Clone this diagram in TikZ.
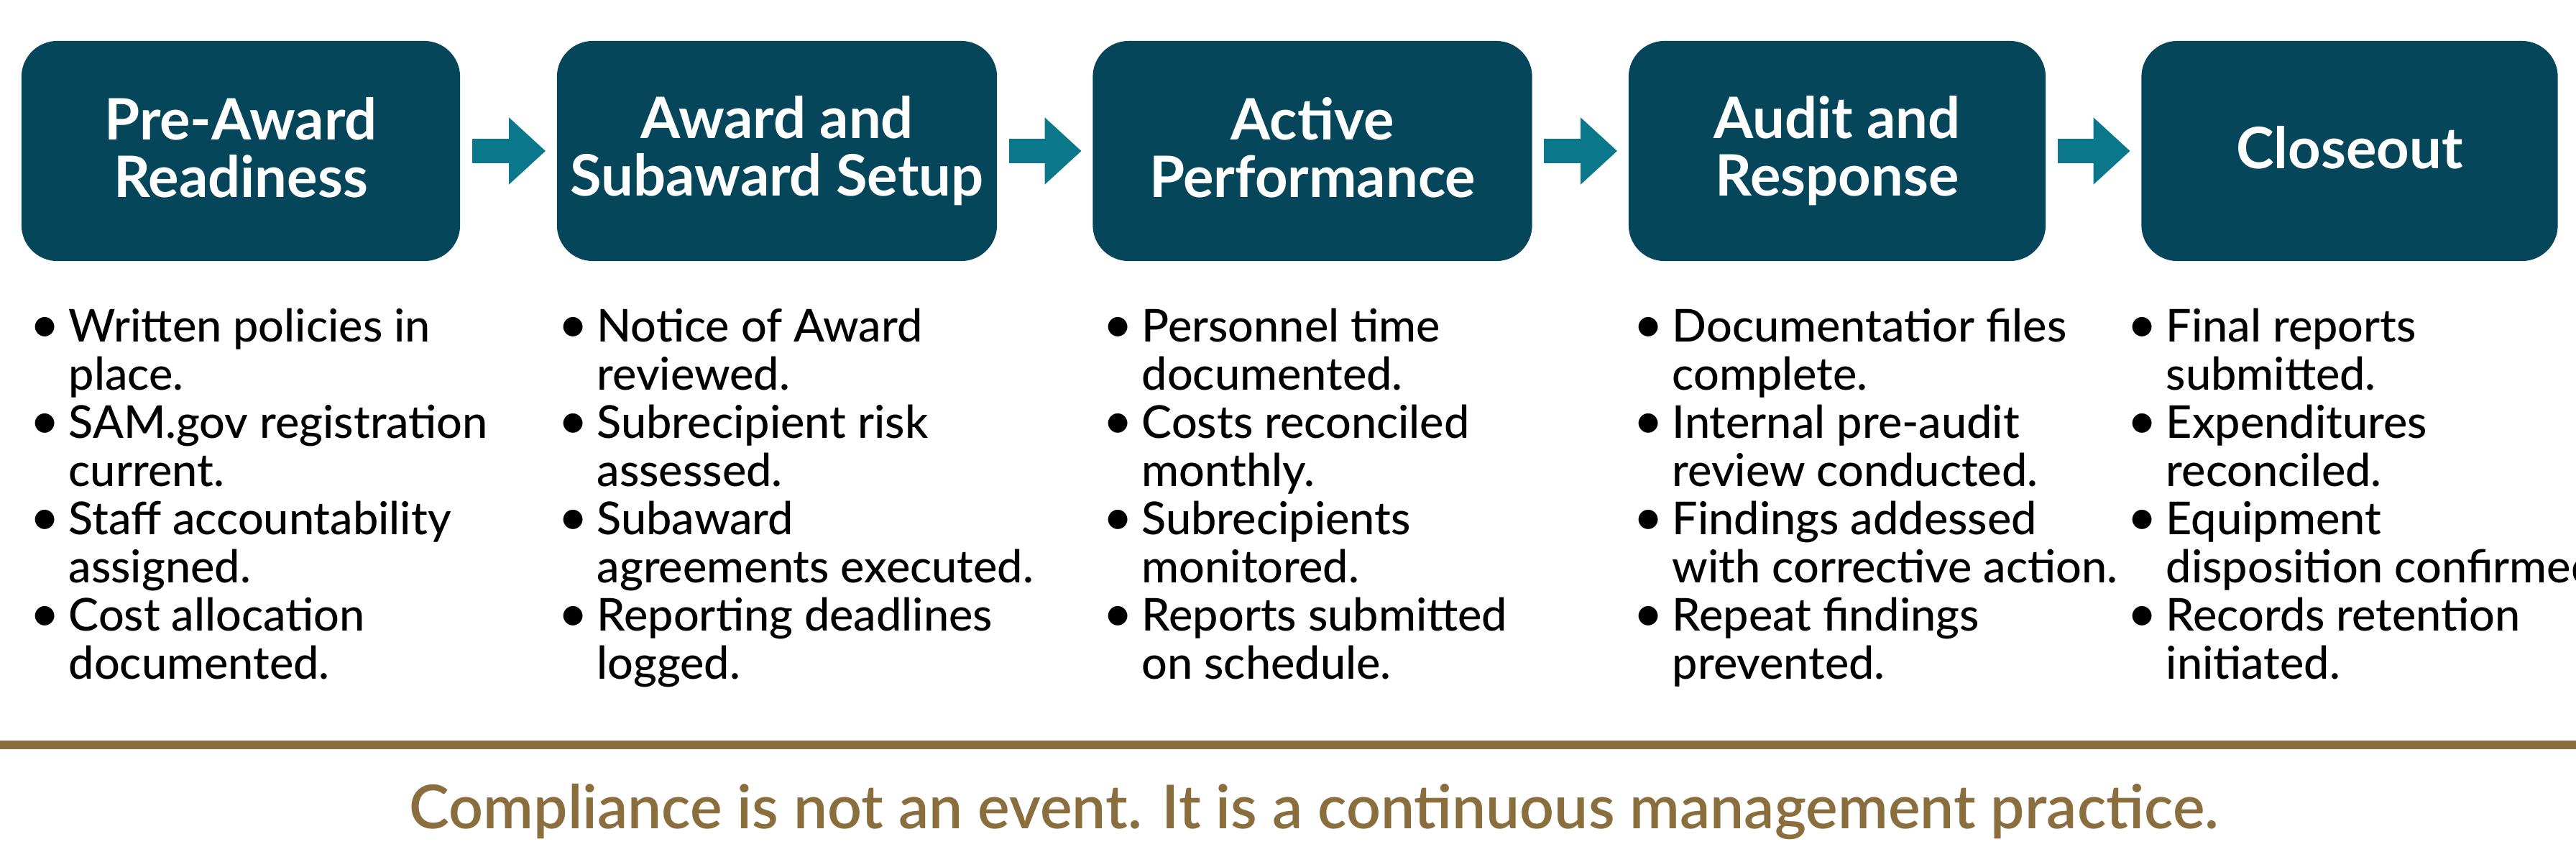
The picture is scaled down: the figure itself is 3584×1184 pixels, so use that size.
\documentclass[tikz,border=0pt]{standalone}
\usepackage{fontspec}
\setmainfont{Lato}
\IfFontExistsTF{Lato Medium}{\newfontfamily\bodyfont{Lato Medium}}{\newfontfamily\bodyfont{Lato}}
\IfFontExistsTF{Lato Semibold}{\newfontfamily\mottofont{Lato Semibold}}{\newfontfamily\mottofont{Lato}[FakeBold=1.5]}
\usepackage{tikz}
\usetikzlibrary{arrows.meta}
\definecolor{stagefill}{RGB}{5,70,90}
\definecolor{flowteal}{RGB}{10,120,138}
\definecolor{gold}{RGB}{139,110,62}
\newcommand{\bul}{\makebox[12.5pt][l]{\hspace*{-2.6pt}\scalebox{1.1}{\textbullet}}}
\newcommand{\ind}{\hspace*{12.5pt}}
\newcommand{\hstrut}{\rule[-3.07pt]{0pt}{19pt}}

\begin{document}
\begin{tikzpicture}[x=0.01cm,y=-0.01cm,
    stage/.style={rectangle,rounded corners=0.5cm,fill=stagefill,text=white,
      minimum height=3.06cm,align=center,inner sep=0pt,
      font=\fontsize{22.6}{22.8}\selectfont\bfseries},
    items/.style={anchor=north west,align=left,inner sep=0pt,
      font=\bodyfont\fontsize{17.9}{19.06}\selectfont},
    flow/.style={flowteal,line width=0.33cm,
      -{Triangle[length=0.51cm,width=0.9cm]},
      shorten <=0.16cm,shorten >=0.15cm}]
  \useasboundingbox (0,0) rectangle (3584,1184);

  % stages
  \node[stage,minimum width=6.1cm] (pre) at (335,210) {\hstrut Pre-Award\\Readiness\hstrut};
  \node[stage,minimum width=6.12cm] (award) at (1081,210) {\hstrut Award and\\Subaward Setup\hstrut};
  \node[stage,minimum width=6.11cm] (active) at (1826,210) {\hstrut Active\\Performance\hstrut};
  \node[stage,minimum width=5.8cm] (audit) at (2556,210) {\hstrut Audit and\\Response\hstrut};
  \node[stage,minimum width=5.79cm] (close) at (3269,210) {\hstrut Closeout\hstrut};

  \foreach \a/\b in {pre/award, award/active, active/audit, audit/close}
    \draw[flow] (\a) -- (\b);

  % checklists
  \node[items] (preL) at (51,428) {\strut\bul Written policies in\\ \ind place.\\
    \bul SAM.gov registration\\ \ind current.\\
    \bul Staff accountability\\ \ind assigned.\\
    \bul Cost allocation\\ \ind documented.};
  \node[items] (awardL) at (786,428) {\strut\bul Notice of Award\\ \ind reviewed.\\
    \bul Subrecipient risk\\ \ind assessed.\\
    \bul Subaward\\ \ind agreements executed.\\
    \bul Reporting deadlines\\ \ind logged.};
  \node[items] (activeL) at (1544,428) {\strut\bul Personnel time\\ \ind documented.\\
    \bul Costs reconciled\\ \ind monthly.\\
    \bul Subrecipients\\ \ind monitored.\\
    \bul Reports submitted\\ \ind on schedule.};
  \node[items] (auditL) at (2282,428) {\strut\bul Documentatior files\\ \ind complete.\\
    \bul Internal pre-audit\\ \ind review conducted.\\
    \bul Findings addessed\\ \ind with corrective action.\\
    \bul Repeat findings\\ \ind prevented.};
  \node[items] (closeL) at (2969,428) {\strut\bul Final reports\\ \ind submitted.\\
    \bul Expenditures\\ \ind reconciled.\\
    \bul Equipment\\ \ind disposition confirmed.\\
    \bul Records retention\\ \ind initiated.};

  % footer
  \fill[gold] (0,1030) rectangle (3584,1042);
  \node[anchor=base,text=gold,font=\mottofont\fontsize{23.9}{27}\selectfont] (motto) at (1828,1152)
    {Compliance is not an event. It is a continuous management practice.};
\end{tikzpicture}
\end{document}
